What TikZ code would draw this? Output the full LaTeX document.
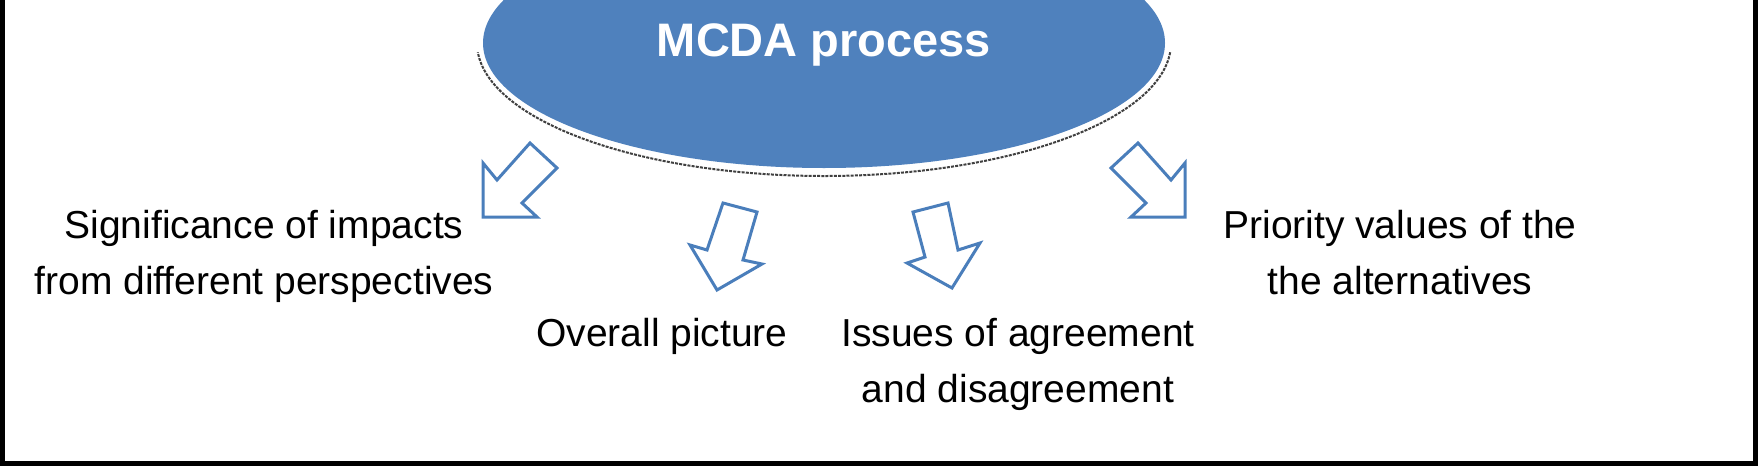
\documentclass[tikz,border=0pt]{standalone}
\usepackage{fontspec}
\setmainfont{Liberation Sans}
\usetikzlibrary{shapes.geometric}
\definecolor{mcdablue}{RGB}{79,129,189}
\definecolor{arrowblue}{RGB}{74,126,187}
\begin{document}
\begin{tikzpicture}[x=1pt,y=-1pt,
  lbl/.style={font=\fontsize{39}{56}\selectfont, align=center, inner sep=0pt},
  blockarrow/.style={draw=arrowblue, line width=3pt, fill=white, line join=miter},
  shadowline/.style={draw=black!75, line width=2pt, dash pattern=on 3pt off 1.2pt}]
\useasboundingbox (0,0) rectangle (1758,466);
\fill[white] (0,0) rectangle (1758,466);
% frame
\draw[line width=5pt] (2.5,-20) -- (2.5,463.5) -- (1755.5,463.5) -- (1755.5,-20);
% ellipse with shadow
\coordinate (ec) at (824,43);
\draw[shadowline] ([shift={(4:347 and 133)}]ec) arc[start angle=4, end angle=176, x radius=347, y radius=133];
\node[ellipse, fill=mcdablue, minimum width=682pt, minimum height=250pt, inner sep=0pt] (mcda) at (ec) {};
\node[anchor=base, inner sep=0pt, text=white, font=\bfseries\fontsize{47}{56}\selectfont] (mcdatext) at (824,56) {MCDA process};
% block arrows
\draw[blockarrow] (483,163) -- (497,180) -- (530,143) -- (557,168) -- (522,203) -- (537,217) -- (483,217) -- cycle;
\draw[blockarrow] (723,203) -- (757,212) -- (743,260) -- (762,264) -- (717,290) -- (690,245) -- (707,250) -- cycle;
\draw[blockarrow] (913,212) -- (948,203) -- (958,250) -- (980,243) -- (952,288) -- (907,263) -- (925,257) -- cycle;
\draw[blockarrow] (1185,163) -- (1171,180) -- (1138,143) -- (1111,168) -- (1146,203) -- (1131,217) -- (1185,217) -- cycle;
% labels (base anchor = baseline of the last line)
\node[lbl, anchor=base] (sig) at (264,294) {Significance of impacts\\from different perspectives};
\node[lbl, anchor=base] (overall) at (662,346) {Overall picture};
\node[lbl, anchor=base] (issues) at (1018,402) {Issues of agreement\\and disagreement};
\node[lbl, anchor=base] (prio) at (1400,294) {Priority values of the\\the alternatives};
\end{tikzpicture}
\end{document}
